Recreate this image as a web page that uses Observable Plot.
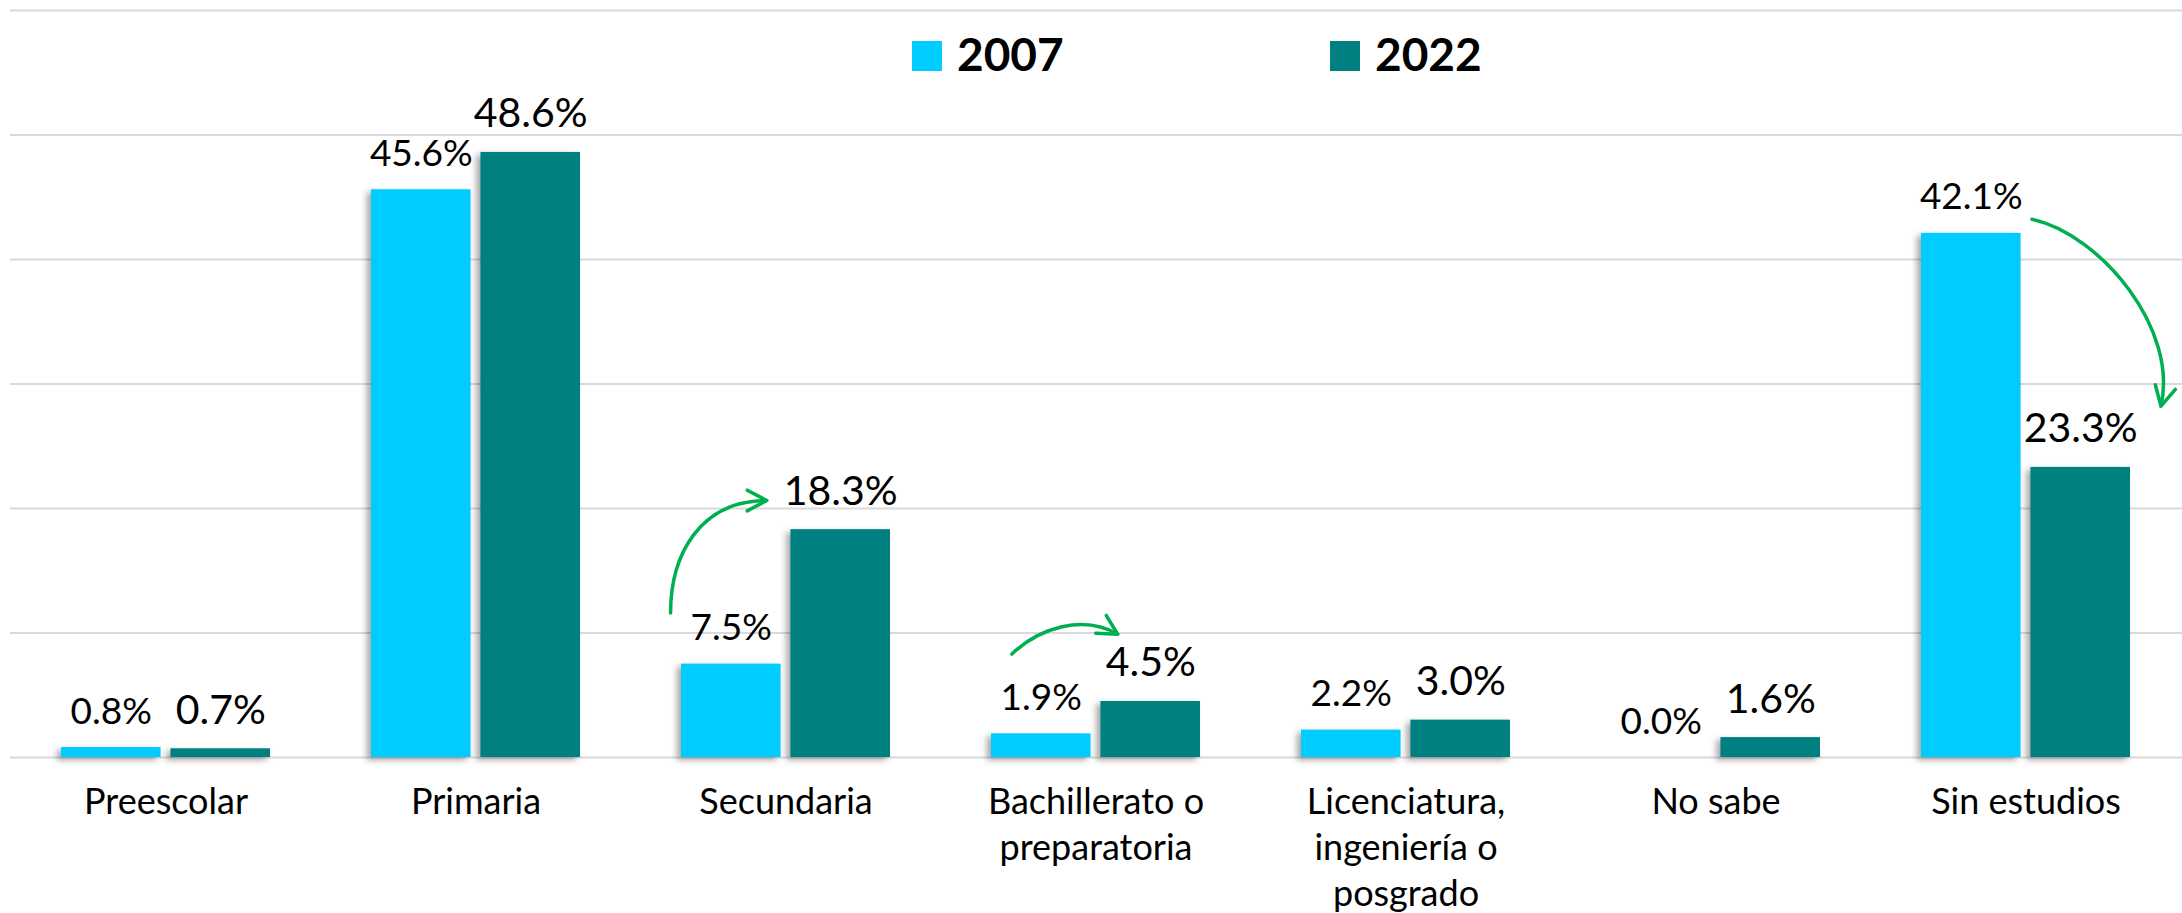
<!DOCTYPE html>
<html><head><meta charset="utf-8">
<script src="https://cdn.jsdelivr.net/npm/d3@7"></script>
<script src="https://cdn.jsdelivr.net/npm/@observablehq/plot@0.6"></script>
<style>
html,body{margin:0;padding:0;background:#fff;}
#chart{position:relative;width:2182px;height:913px;overflow:hidden;font-family:Lato,sans-serif;}
.sw{position:absolute;width:30px;height:30px;}
.lt{position:absolute;font-family:Lato,sans-serif;font-weight:700;font-size:46px;line-height:46px;color:#000;white-space:nowrap;}
g[aria-label="bar"]{filter:drop-shadow(-4px 3px 3px rgba(0,0,0,0.35));}
</style></head><body><div id="chart"></div>
<script>
// ---- data ----
const categories = ["Preescolar","Primaria","Secundaria","Bachillerato o preparatoria","Licenciatura, ingeniería o posgrado","No sabe","Sin estudios"];
const tickLabels = ["Preescolar","Primaria","Secundaria","Bachillerato o\npreparatoria","Licenciatura,\ningeniería o\nposgrado","No sabe","Sin estudios"];
const values2007 = [0.8, 45.6, 7.5, 1.9, 2.2, 0.0, 42.1];
const values2022 = [0.7, 48.6, 18.3, 4.5, 3.0, 1.6, 23.3];
const seriesNames = ["2007", "2022"];
const seriesColors = ["#00CCFF", "#008080"];
const yTicks = [0, 10, 20, 30, 40, 50, 60];

// ---- layout ----
const W = 2182, H = 913;
const mL = 10, mR = 0, mT = 10, mB = 156;
const padIn = 0.325, padOut = 0.1625;
const barW = 100;

const rows = categories.map((c, i) => ({category: c, v2007: values2007[i], v2022: values2022[i]}));
const labelOf = new Map(categories.map((c, i) => [c, tickLabels[i]]));

const xs = Plot.scale({x: {type: "band", domain: categories, range: [mL, W - mR], paddingInner: padIn, paddingOuter: padOut}});
const bw = xs.bandwidth;
const off = bw / 2 - barW / 2;
const fmt = v => d3.format(".1f")(v) + "%";

// annotation arrows: x as fraction of the category band, y in data units
const arrowSpecs = [
  {cat: "Secundaria", pts: [[-0.05, 11.57], [-0.05, 16.2], [0.089, 20.6], [0.41, 20.6]]},
  {cat: "Bachillerato o preparatoria", pts: [[0.1, 8.27], [0.229, 10.36], [0.443, 11.49], [0.606, 9.86]]},
  {cat: "Sin estudios", pts: [[0.531, 43.19], [0.865, 41.93], [1.233, 34.3], [1.148, 28.19]]}
];

function arrowMark(index, scales) {
  let x = scales.x, y = scales.y;
  let bandw = (x && typeof x.bandwidth === "function") ? x.bandwidth() : bw;
  if (!x || typeof x !== "function") x = v => xs.apply(v);
  const g = d3.create("svg:g")
    .attr("fill", "none").attr("stroke", "#00B050").attr("stroke-width", 3.5)
    .attr("stroke-linecap", "round").attr("stroke-linejoin", "round");
  for (const a of arrowSpecs) {
    const p = a.pts.map(([f, v]) => [x(a.cat) + f * bandw, y(v)]);
    g.append("path").attr("d", `M${p[0]}C${p[1]} ${p[2]} ${p[3]}`);
    const ang = Math.atan2(p[3][1] - p[2][1], p[3][0] - p[2][0]);
    const L = 22, h = 28 * Math.PI / 180;
    const a1 = [p[3][0] - L * Math.cos(ang - h), p[3][1] - L * Math.sin(ang - h)];
    const a2 = [p[3][0] - L * Math.cos(ang + h), p[3][1] - L * Math.sin(ang + h)];
    g.append("path").attr("d", `M${a1}L${p[3]}L${a2}`);
  }
  return g.node();
}

const plot = Plot.plot({
  width: W, height: H,
  marginLeft: mL, marginRight: mR, marginTop: mT, marginBottom: mB,
  style: {fontFamily: "Lato, sans-serif", color: "#000", background: "#fff", overflow: "visible"},
  x: {type: "band", domain: categories, paddingInner: padIn, paddingOuter: padOut, label: null},
  y: {domain: [0, 60], axis: null},
  marks: [
    Plot.gridY(yTicks, {stroke: "#d9d9d9", strokeOpacity: 1, strokeWidth: 2}),
    Plot.barY(rows, {x: "category", y: "v2007", fill: seriesColors[0], insetRight: bw - barW}),
    Plot.barY(rows, {x: "category", y: "v2022", fill: seriesColors[1], insetLeft: bw - barW}),
    Plot.text(rows, {x: "category", y: "v2007", text: d => fmt(d.v2007), dx: -off, dy: -24, lineAnchor: "bottom", fontSize: 37, fill: "#000"}),
    Plot.text(rows, {x: "category", y: "v2022", text: d => fmt(d.v2022), dx: off, dy: -25, lineAnchor: "bottom", fontSize: 41, fill: "#000"}),
    Plot.axisX({tickSize: 0, tickPadding: 24, fontSize: 36, lineHeight: 1.28, label: null, tickFormat: c => labelOf.get(c), fill: "#000"}),
    arrowMark
  ]
});

const chart = document.getElementById("chart");
chart.appendChild(plot);

// legend (overlaid in the top band of the chart)
const legendPos = [{sq: 912, tx: 957}, {sq: 1330, tx: 1375}];
seriesNames.forEach((name, i) => {
  const sw = document.createElement("div");
  sw.className = "sw";
  sw.style.left = legendPos[i].sq + "px";
  sw.style.top = "41px";
  sw.style.background = seriesColors[i];
  chart.appendChild(sw);
  const t = document.createElement("div");
  t.className = "lt";
  t.style.left = legendPos[i].tx + "px";
  t.style.top = "31px";
  t.textContent = name;
  chart.appendChild(t);
});
</script></body></html>
